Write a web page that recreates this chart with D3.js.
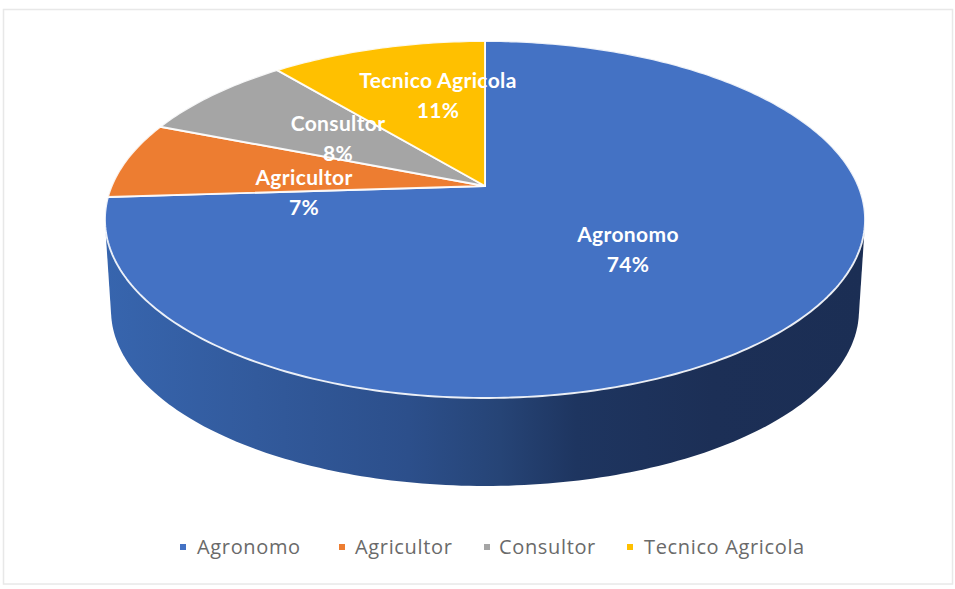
<!DOCTYPE html>
<html>
<head>
<meta charset="utf-8">
<script src="https://cdn.jsdelivr.net/npm/d3@7/dist/d3.min.js"></script>
<style>
  html, body { margin: 0; padding: 0; background: #fff; }
  svg { display: block; }
  .slice-label { font-family: Lato, "Open Sans", sans-serif; }
  .legend-label { font-family: "Open Sans", sans-serif; }
</style>
</head>
<body>
<svg id="chart" width="955" height="589"></svg>
<script>
// Survey respondents by profession
const categories = ["Agronomo", "Agricultor", "Consultor", "Tecnico Agricola"];
const shares = [74, 7, 8, 11];
const sliceColors = ["#4472C4", "#ED7D31", "#A5A5A5", "#FFC000"];
// Label centres for each slice (first line of the two)
const labelCentres = [[628, 235], [304, 178], [338, 124], [438, 81]];
// Legend layout: marker x and text x for each entry
const legendMarkerX = [180, 339, 484, 627];
const legendTextX = [197, 355, 499, 644];

const svg = d3.select("#chart");
const defs = svg.append("defs");

// Shading across the wall of the disc
const wallGradient = defs.append("linearGradient")
  .attr("id", "wall")
  .attr("gradientUnits", "userSpaceOnUse")
  .attr("x1", 105).attr("x2", 865).attr("y1", 0).attr("y2", 0);
[[0, "#3765ae"], [0.2, "#325a9c"], [0.4, "#2c4f8b"], [0.52, "#264476"], [0.62, "#1e3560"], [0.8, "#1c2f56"], [1, "#1b2e54"]]
  .forEach(([o, c]) => wallGradient.append("stop").attr("offset", o).attr("stop-color", c));

// Chart-area frame
svg.append("rect")
  .attr("x", 3.5).attr("y", 9.5).attr("width", 949).attr("height", 574.5)
  .attr("fill", "#fff").attr("stroke", "#e8e8e8").attr("stroke-width", 1.5);

// Perspective projection of the unit disc onto the screen
const apex = [485, 186];
const k = 0.1877, spreadX = 373.3, spreadY = 172.2;
const project = (angle, r = 1, scale = 1, drop = 0) => {
  const X = r * Math.sin(angle), Y = r * Math.cos(angle);
  const w = 1 + k * Y;
  return [apex[0] + scale * spreadX * X / w, apex[1] + drop - scale * spreadY * Y / w];
};

const turn = d3.range(0, 361, 1).map(d => d * Math.PI / 180);
const outlineTop = turn.map(a => project(a));
const outlineBottom = turn.map(a => project(a, 1, 0.984, 91.4));

// Wall: the convex hull of the top and bottom rims
const wallShape = d3.polygonHull(outlineTop.concat(outlineBottom));
svg.append("path")
  .attr("d", "M" + wallShape.join("L") + "Z")
  .attr("fill", "url(#wall)");

// Top face slices
const pie = d3.pie().sort(null).value(d => d)(shares);
const line = d3.line();
svg.append("g").selectAll("path")
  .data(pie)
  .join("path")
  .attr("d", d => {
    const n = Math.max(2, Math.ceil((d.endAngle - d.startAngle) * 60));
    const rim = d3.range(n + 1).map(i => project(d.startAngle + (d.endAngle - d.startAngle) * i / n));
    return line([apex, ...rim]) + "Z";
  })
  .attr("fill", (d, i) => sliceColors[i])
  .attr("stroke", "#fff")
  .attr("stroke-opacity", 0.9)
  .attr("stroke-width", 1.9)
  .attr("stroke-linejoin", "round");

// Slice labels: category and percentage
const labels = svg.append("g")
  .attr("class", "slice-label")
  .attr("fill", "#fff")
  .attr("font-weight", 700)
  .attr("font-size", 21)
  .attr("letter-spacing", 0.35)
  .attr("text-anchor", "middle");
categories.forEach((name, i) => {
  const [x, y] = labelCentres[i];
  labels.append("text").attr("x", x).attr("y", y + 7).text(name);
  labels.append("text").attr("x", x).attr("y", y + 37).text(shares[i] + "%");
});

// Legend
const legend = svg.append("g");
categories.forEach((name, i) => {
  legend.append("rect")
    .attr("x", legendMarkerX[i]).attr("y", 544)
    .attr("width", 6).attr("height", 6)
    .attr("fill", sliceColors[i]);
  legend.append("text")
    .attr("class", "legend-label")
    .attr("x", legendTextX[i]).attr("y", 553.5)
    .attr("font-size", 20)
    .attr("letter-spacing", 0.65)
    .attr("fill", "#6a6a6a")
    .text(name);
});
</script>
</body>
</html>
